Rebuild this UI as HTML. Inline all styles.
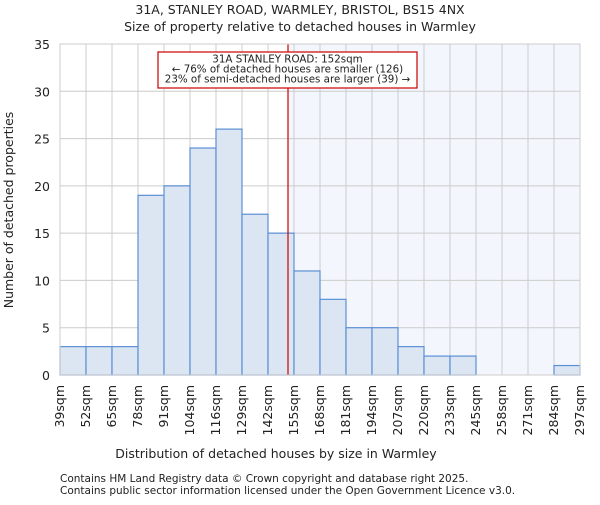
<!DOCTYPE html>
<html><head><meta charset="utf-8"><style>
body{margin:0;background:#fff}
svg text{font-family:"DejaVu Sans","Liberation Sans",sans-serif;fill:#222}
</style></head><body>
<svg id="c" width="600" height="500" xmlns="http://www.w3.org/2000/svg">
<text x="300" y="14" text-anchor="middle" font-size="12.5">31A, STANLEY ROAD, WARMLEY, BRISTOL, BS15 4NX</text>
<text x="300" y="31" text-anchor="middle" font-size="12.5">Size of property relative to detached houses in Warmley</text>
<g id="plot"></g>
<text x="276" y="458" text-anchor="middle" font-size="12.5">Distribution of detached houses by size in Warmley</text>
<text transform="translate(13,210) rotate(-90)" text-anchor="middle" font-size="12.5">Number of detached properties</text>
<text x="60" y="482" font-size="10.5">Contains HM Land Registry data © Crown copyright and database right 2025.</text>
<text x="60" y="494" font-size="10.5">Contains public sector information licensed under the Open Government Licence v3.0.</text>
</svg>
<script>
const categories=["39sqm","52sqm","65sqm","78sqm","91sqm","104sqm","116sqm","129sqm","142sqm","155sqm","168sqm","181sqm","194sqm","207sqm","220sqm","233sqm","245sqm","258sqm","271sqm","284sqm","297sqm"];
const counts=[3,3,3,19,20,24,26,17,15,11,8,5,5,3,2,2,0,0,0,1];
const yTicks=[0,5,10,15,20,25,30,35];
const binStarts=[39,52,65,78,91,104,116,129,142,155,168,181,194,207,220,233,245,258,271,284,297];
const propertySize=152;
const X0=60,X1=580,Y0=375,Y1=44,YMAX=35;
const bw=(X1-X0)/counts.length;
const xs=i=>X0+i*bw;
const ys=v=>Y0-(v/YMAX)*(Y0-Y1);
function sizeToX(s){let i=0;while(i<binStarts.length-2&&binStarts[i+1]<=s)i++;return xs(i)+(s-binStarts[i])/(binStarts[i+1]-binStarts[i])*bw;}
const g=document.getElementById('plot');const NS="http://www.w3.org/2000/svg";
function mk(t,a){const e=document.createElementNS(NS,t);for(const k in a)e.setAttribute(k,a[k]);g.appendChild(e);return e;}
const lx=sizeToX(propertySize);
let e=mk('rect',{x:lx,y:Y1,width:X1-lx,height:Y0-Y1,fill:'#f3f6fd'});


for(let i=0;i<=counts.length;i++){e=mk('line',{x1:xs(i),x2:xs(i),y1:Y1,y2:Y0,stroke:'#cccccc','stroke-width':1});

}
yTicks.forEach(t=>{e=mk('line',{x1:X0,x2:X1,y1:ys(t),y2:ys(t),stroke:'#cccccc','stroke-width':1});


e=mk('text',{x:X0-10,y:ys(t)+5,'text-anchor':'end','font-size':'12.5'});e.textContent=t;

});
counts.forEach((v,i)=>{if(v<=0)return;e=mk('rect',{x:xs(i),y:ys(v),width:bw,height:Y0-ys(v),fill:'#dce6f3',stroke:'#5b8fd6','stroke-width':1.2});

});
categories.forEach((c,i)=>{e=mk('text',{transform:`translate(${xs(i)+4},${Y0+10}) rotate(-90)`,'text-anchor':'end','font-size':'12.5'});e.textContent=c;

});
e=mk('line',{x1:lx,x2:lx,y1:Y1,y2:Y0,stroke:'#cc0000','stroke-width':1.2});


e=mk('rect',{x:158,y:52,width:259,height:36,fill:'#fff',stroke:'#cc0000','stroke-width':1.2});


["31A STANLEY ROAD: 152sqm","← 76% of detached houses are smaller (126)","23% of semi-detached houses are larger (39) →"].forEach((s,k)=>{e=mk('text',{x:287.5,y:62.5+k*10,'text-anchor':'middle','font-size':'10.3'});e.textContent=s;

});
e=mk('rect',{x:X0,y:Y1,width:X1-X0,height:Y0-Y1,fill:'none',stroke:'#cccccc'});


</script>
</body></html>
